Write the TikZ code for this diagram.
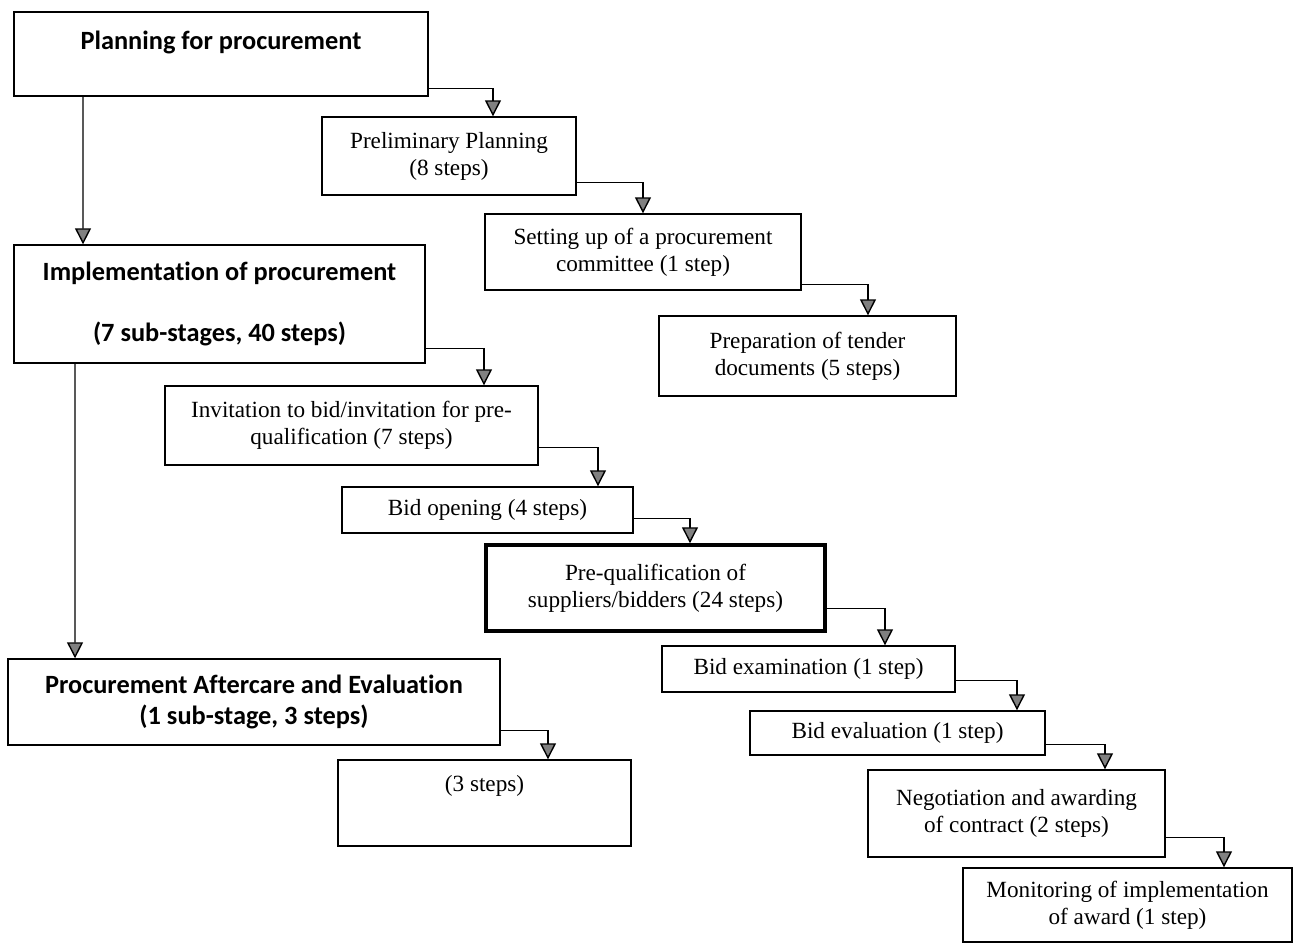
\documentclass[tikz,border=0pt]{standalone}
\usepackage{fontspec}
\setmainfont{Liberation Serif}
\newfontfamily\calib[RawFeature=-liga]{Carlito}
\usetikzlibrary{arrows.meta}
\begin{document}
\begin{tikzpicture}[x=.02cm,y=-.02cm,
 stage/.style={draw,line width=.8pt,inner sep=0pt,align=center,font=\fontsize{13.2}{15.3}\selectfont},
 phase/.style={stage,font=\calib\bfseries\fontsize{15}{18}\selectfont},
 flow/.style={line width=.8pt,-{Triangle[width=.32cm,length=.32cm,fill=gray]}}]
\useasboundingbox(0,0)rectangle(1299,947);
% main stages
\node[phase,minimum width=8.28cm](plan)at(221,54){\rule[-.94cm]{0pt}{1.68cm}Planning for procurement};
\node[phase,minimum width=8.22cm,minimum height=2.36cm](impl)at(219.5,304){Implementation of procurement\\[.6cm](7 sub-stages, 40 steps)};
\node[phase,minimum width=9.84cm,minimum height=1.72cm](after)at(254,702){Procurement Aftercare and Evaluation\\(1 sub-stage, 3 steps)};
% sub-stages
\node[stage,minimum width=5.08cm,minimum height=1.56cm](prelim)at(449,156){Preliminary Planning\\(8 steps)};
\node[stage,minimum width=6.32cm,minimum height=1.52cm](setup)at(643,252){Setting up of a procurement\\committee (1 step)};
\node[stage,minimum width=5.94cm,minimum height=1.6cm](tender)at(807.5,356){Preparation of tender\\documents (5 steps)};
\node[stage,minimum width=7.46cm,minimum height=1.58cm](invite)at(351.5,425.5){Invitation to bid/invitation for pre-\\qualification (7 steps)};
\node[stage,minimum width=5.82cm,minimum height=.92cm](bidopen)at(487.5,510){Bid opening (4 steps)};
\node[stage,line width=2pt,minimum width=6.78cm,minimum height=1.72cm](prequal)at(655.5,588){Pre-qualification of\\suppliers/bidders (24 steps)};
\node[stage,minimum width=5.86cm,minimum height=.92cm](bidexam)at(808.5,669){Bid examination (1 step)};
\node[stage,minimum width=5.9cm,minimum height=.88cm](bideval)at(897.5,733){Bid evaluation (1 step)};
\node[stage,minimum width=5.94cm,minimum height=1.74cm](negot)at(1016.5,813.5){Negotiation and awarding\\of contract (2 steps)};
\node[stage,minimum width=6.58cm,minimum height=1.48cm](monitor)at(1127.5,905){Monitoring of implementation\\of award (1 step)};
\node[stage,minimum width=5.86cm](three)at(484.5,803){\rule[-1.1cm]{0pt}{1.72cm}(3 steps)};
% connectors
\draw[flow]([xshift=-2.76cm]plan.south)--([xshift=-2.73cm]impl.north);
\draw[flow]([xshift=-2.89cm]impl.south)--([xshift=-3.58cm]after.north);
\draw[flow]([yshift=.16cm]plan.south east)-|([xshift=.88cm]prelim.north);
\draw[flow]([yshift=.26cm]prelim.south east)-|(setup.north);
\draw[flow]([yshift=.12cm]setup.south east)-|([xshift=1.21cm]tender.north);
\draw[flow]([yshift=.3cm]impl.south east)-|([xshift=2.65cm]invite.north);
\draw[flow]([yshift=.36cm]invite.south east)-|([xshift=2.21cm]bidopen.north);
\draw[flow]([yshift=.3cm]bidopen.south east)-|([xshift=.69cm]prequal.north);
\draw[flow]([yshift=.48cm]prequal.south east)-|([xshift=1.53cm]bidexam.north);
\draw[flow]([yshift=.24cm]bidexam.south east)-|([xshift=2.39cm]bideval.north);
\draw[flow]([yshift=.22cm]bideval.south east)-|([xshift=1.77cm]negot.north);
\draw[flow]([yshift=.4cm]negot.south east)-|([xshift=1.93cm]monitor.north);
\draw[flow]([yshift=.3cm]after.south east)-|([xshift=1.27cm]three.north);
\end{tikzpicture}
\end{document}
